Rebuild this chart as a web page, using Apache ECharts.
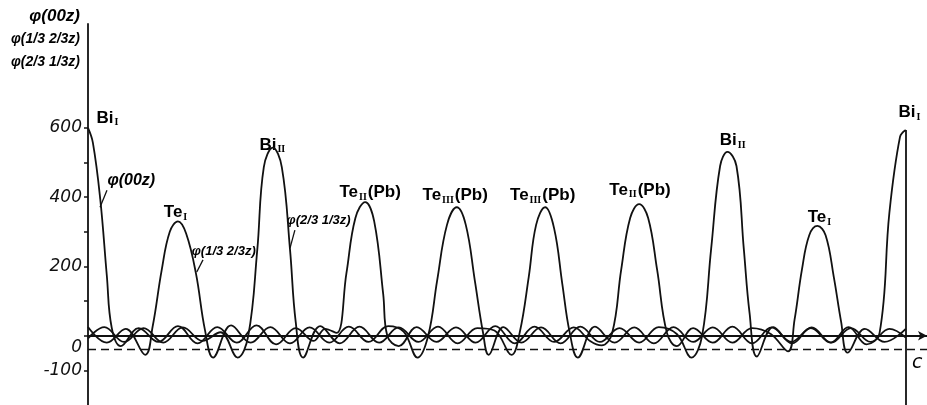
<!DOCTYPE html>
<html>
<head>
<meta charset="utf-8">
<script src="https://cdn.jsdelivr.net/npm/echarts@6/dist/echarts.min.js"></script>
<style>html,body{margin:0;padding:0;background:#fff}#c{width:927px;height:405px}</style>
</head>
<body>
<div id="c"></div>
<script>
// z in percent of c, value = electron density phi
const zA = [0, 0.6, 1.5, 2.3, 2.9, 4.0, 6.2, 8.6, 11.0, 13.4, 15.8, 18.2, 20.6, 23.0, 25.4, 27.6, 29.0, 30.4, 31.6, 32.7, 33.9, 35.0, 36.1, 36.6, 38.0, 40.2, 42.6, 45.0, 47.4, 49.8, 52.2, 54.6, 57.0, 59.4, 61.4, 62.8, 64.1, 65.2, 66.3, 67.4, 68.5, 69.6, 70.8, 72.0, 74.0, 76.4, 78.8, 81.2, 83.6, 86.0, 88.4, 90.8, 93.0, 95.2, 96.8, 98.0, 99.3, 100];
const vA = [600, 557, 394, 174, 23, -30, 22, -18, 28, -22, 25, -20, 30, -25, 22, -15, 20, 8, 180, 340, 386, 330, 120, 0, -30, 25, -18, 24, -20, 28, -22, 26, -18, 24, -15, -28, 8, 190, 340, 380, 340, 190, 8, -30, 22, -20, 26, -22, 24, -18, 22, -20, 25, -25, 8, 355, 574, 594];

const zB = [0, 2.3, 4.6, 7.0, 7.9, 9.0, 10.0, 11.0, 12.0, 13.2, 14.3, 15.3, 17.5, 19.9, 22.3, 24.7, 27.1, 29.5, 31.9, 34.3, 36.7, 38.6, 40.3, 41.6, 42.7, 43.9, 45.1, 46.2, 47.3, 48.3, 49.0, 50.8, 53.0, 55.4, 57.8, 60.2, 62.6, 65.0, 67.4, 69.8, 72.0, 73.8, 75.1, 76.2, 77.3, 78.2, 79.3, 80.2, 80.9, 81.8, 83.8, 86.1, 88.5, 90.9, 93.3, 95.7, 98.0, 100];
const vB = [25, -20, 20, -55, 26, 188, 300, 330, 295, 180, 17, -63, 30, -20, 25, -22, 24, -20, 26, -18, 28, 12, -63, 0, 160, 320, 371, 320, 160, 10, -55, 25, -20, 24, -22, 26, -18, 22, -20, 25, 5, -63, 0, 250, 490, 531, 490, 250, 66, -60, 25, -22, 24, -20, 22, -18, 20, -5];

const zC = [0, 2.0, 4.4, 6.8, 9.2, 11.6, 14.0, 16.2, 18.3, 19.6, 20.7, 21.5, 22.6, 23.7, 24.7, 25.4, 26.3, 28.4, 30.8, 33.2, 35.6, 38.0, 40.4, 42.8, 45.2, 47.6, 49.7, 51.8, 52.8, 53.9, 54.8, 55.9, 57.0, 58.0, 58.9, 59.9, 62.0, 64.4, 66.8, 69.2, 71.6, 74.0, 76.4, 78.8, 81.2, 83.5, 85.6, 86.4, 87.3, 88.2, 89.2, 90.2, 91.2, 92.1, 92.9, 95.0, 97.4, 100];
const vC = [-8, 25, -18, 22, -20, 24, -15, 10, -63, 0, 248, 487, 543, 487, 250, 40, -63, 28, -22, 26, -20, 24, -18, 26, -22, 22, 15, -55, 10, 170, 320, 371, 310, 150, 10, -63, 26, -20, 24, -22, 25, -18, 24, -20, 22, 5, -45, 46, 190, 290, 317, 290, 170, 40, -49, 20, -18, 20];

// peak labels
const peakNames = ['Bi', 'Te', 'Bi', 'Te', 'Te', 'Te', 'Te', 'Bi', 'Te', 'Bi'];
const peakSubs = ['I', 'I', 'II', 'II', 'III', 'III', 'II', 'II', 'I', 'I'];
const peakSuffix = ['', '', '', '(Pb)', '(Pb)', '(Pb)', '(Pb)', '', '', ''];
const peakLabelZ = [2.44, 10.76, 22.6, 34.5, 44.9, 55.6, 67.5, 78.9, 89.5, 100.5];
const peakLabelV = [629, 355, 551, 415, 404, 404, 421, 565, 343, 646];

// curve annotations
const curveNames = ['φ(00z)', 'φ(1/3 2/3z)', 'φ(2/3 1/3z)'];
const curveLabelSize = [16, 13, 13];
const curveLabelZ = [5.3, 16.6, 28.2];
const curveLabelV = [447, 242, 334];
const leaderFrom = [[1.47, 371], [13.3, 184], [24.7, 253]];
const leaderTo = [[2.32, 420], [14.06, 219], [25.3, 305]];

// axis title lines
const titleLines = ['φ(00z)', 'φ(1/3 2/3z)', 'φ(2/3 1/3z)'];

const yTicks = [-100, 0, 100, 200, 300, 400, 500, 600];
const yLabels = [-100, 0, 200, 400, 600];
const dashedLevel = -38;
const cEnd = 100;

const pairs = (z, v) => z.map((x, i) => [x, v[i]]);
const lineStyle = { color: '#111', width: 1.8 };

const chart = echarts.init(document.getElementById('c'), null, { renderer: 'canvas' });
chart.setOption({
  backgroundColor: '#fff',
  animation: false,
  grid: { left: 88, right: 0, top: 24, bottom: 0, containLabel: false },
  xAxis: {
    type: 'value', min: 0, max: 102.6,
    axisLine: { onZero: true, lineStyle: { color: '#111', width: 1.8 }, symbol: ['none', 'arrow'], symbolSize: [7, 9] },
    axisTick: { show: false }, axisLabel: { show: false }, splitLine: { show: false }
  },
  yAxis: {
    type: 'value', min: -200, max: 900, interval: 100,
    axisLine: { show: true, lineStyle: { color: '#111', width: 1.8 } },
    axisTick: { show: true, customValues: yTicks, length: 4, lineStyle: { color: '#111', width: 1.5 } },
    axisLabel: {
      customValues: yLabels, margin: 6, color: '#111',
      fontFamily: 'DejaVu Sans', fontStyle: 'italic', fontSize: 17,
      formatter: v => v === 0 ? '{z|0}' : String(v),
      rich: { z: { fontFamily: 'DejaVu Sans', fontStyle: 'italic', fontSize: 17, color: '#111', padding: [24, 0, 0, 0] } }
    },
    splitLine: { show: false }
  },
  series: [
    {
      type: 'line', name: curveNames[0], data: pairs(zA, vA), smooth: 0.4, symbol: 'none', lineStyle,
      markLine: {
        silent: true, symbol: 'none', label: { show: false },
        data: [
          { yAxis: dashedLevel, lineStyle: { color: '#111', width: 1.3, type: [8, 5] } },
          [{ coord: [cEnd, vA[vA.length - 1]], lineStyle: { color: '#111', width: 1.8, type: 'solid' } }, { coord: [cEnd, -200] }]
        ]
      }
    },
    { type: 'line', name: curveNames[1], data: pairs(zB, vB), smooth: 0.4, symbol: 'none', lineStyle },
    { type: 'line', name: curveNames[2], data: pairs(zC, vC), smooth: 0.4, symbol: 'none', lineStyle },
    {
      type: 'scatter', symbolSize: 0, silent: true, itemStyle: { opacity: 1 },
      data: peakLabelZ.map((z, i) => ({
        value: [z, peakLabelV[i]],
        label: {
          show: true, position: 'inside',
          formatter: '{m|' + peakNames[i] + '}{s|' + peakSubs[i] + '}' + (peakSuffix[i] ? '{m|' + peakSuffix[i] + '}' : '')
        }
      })),
      label: {
        opacity: 1,
        rich: {
          m: { fontFamily: 'Liberation Sans', fontSize: 17, fontWeight: 'bold', color: '#000' },
          s: { fontFamily: 'Liberation Serif', fontSize: 10, fontWeight: 'bold', color: '#000', padding: [10, 1, 0, 1] }
        }
      }
    },
    {
      type: 'scatter', symbolSize: 0, silent: true, itemStyle: { opacity: 1 },
      data: curveLabelZ.map((z, i) => ({
        value: [z, curveLabelV[i]],
        label: { show: true, position: 'inside', formatter: curveNames[i], fontSize: curveLabelSize[i] }
      })),
      label: { opacity: 1, fontFamily: 'Liberation Sans', fontStyle: 'italic', fontWeight: 'bold', color: '#000' },
      markLine: {
        silent: true, symbol: 'none', label: { show: false },
        lineStyle: { color: '#111', width: 1.3, type: 'solid', opacity: 1 },
        data: leaderFrom.map((p, i) => [{ coord: p }, { coord: leaderTo[i] }])
      }
    }
  ],
  graphic: [
    { type: 'text', x: 80, y: 8, style: { text: titleLines[0], font: 'italic bold 17px "Liberation Sans"', fill: '#000', textAlign: 'right' } },
    { type: 'text', x: 80, y: 32, style: { text: titleLines[1], font: 'italic bold 14px "Liberation Sans"', fill: '#000', textAlign: 'right' } },
    { type: 'text', x: 80, y: 55, style: { text: titleLines[2], font: 'italic bold 14px "Liberation Sans"', fill: '#000', textAlign: 'right' } },
    { type: 'text', x: 912, y: 354, style: { text: 'c', font: 'italic 19px "DejaVu Sans"', fill: '#000' } }
  ]
});
</script>
</body>
</html>
